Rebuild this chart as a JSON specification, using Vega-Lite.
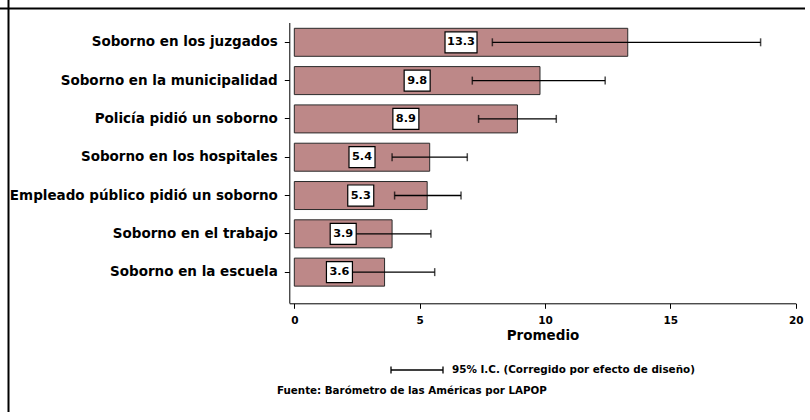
{
  "$schema": "https://vega.github.io/schema/vega-lite/v6.json",
  "width": 830,
  "height": 440,
  "autosize": {"type": "none"},
  "padding": {"left": 8, "top": 8, "right": -33, "bottom": -36},
  "background": "white",
  "config": {"view": {"stroke": null}, "font": "DejaVu Sans"},
  "data": {"values": [
    {"cat": "Soborno en los juzgados", "value": 13.3, "lo": 7.9, "hi": 18.6},
    {"cat": "Soborno en la municipalidad", "value": 9.8, "lo": 7.1, "hi": 12.4},
    {"cat": "Policía pidió un soborno", "value": 8.9, "lo": 7.35, "hi": 10.45},
    {"cat": "Soborno en los hospitales", "value": 5.4, "lo": 3.9, "hi": 6.9},
    {"cat": "Empleado público pidió un soborno", "value": 5.3, "lo": 4.0, "hi": 6.65},
    {"cat": "Soborno en el trabajo", "value": 3.9, "lo": 2.35, "hi": 5.45},
    {"cat": "Soborno en la escuela", "value": 3.6, "lo": 1.6, "hi": 5.6}
  ]},
  "title": {
    "text": "Fuente: Barómetro de las Américas por LAPOP",
    "orient": "bottom", "anchor": "start", "frame": "group",
    "dx": 269, "offset": -72,
    "font": "DejaVu Sans", "fontSize": 10.3, "fontWeight": "bold", "color": "black"
  },
  "layer": [
    {
      "encoding": {
        "y": {
          "field": "cat", "type": "nominal", "sort": null,
          "scale": {"type": "band", "range": [14.5, 295], "paddingInner": 0.269, "paddingOuter": 0.296, "align": 0.256},
          "axis": {
            "title": null, "orient": "left", "offset": -281.3,
            "domainColor": "black", "domainWidth": 1,
            "tickColor": "black", "tickSize": 5, "tickWidth": 1,
            "labelFont": "DejaVu Sans", "labelFontWeight": "bold", "labelFontSize": 13.5,
            "labelColor": "black", "labelPadding": 7, "labelLimit": 400
          }
        }
      },
      "layer": [
        {
          "mark": {"type": "bar", "fill": "#BD8888", "stroke": "#2a2a2a", "strokeWidth": 1},
          "encoding": {
            "x": {
              "field": "value", "type": "quantitative",
              "scale": {"domain": [-0.2, 20], "range": [281.3, 787.7], "nice": false, "zero": false},
              "axis": {
                "values": [0, 5, 10, 15, 20], "title": "Promedio", "orient": "bottom", "offset": -144.7,
                "grid": false, "domainColor": "black", "domainWidth": 1,
                "tickColor": "black", "tickSize": 5, "tickWidth": 1,
                "labelFont": "DejaVu Sans", "labelFontWeight": "bold", "labelFontSize": 10.5,
                "labelColor": "black", "labelPadding": 7, "labelFlush": false,
                "titleFont": "DejaVu Sans", "titleFontWeight": "bold", "titleFontSize": 13.5,
                "titleColor": "black", "titlePadding": 3
              }
            },
            "x2": {"datum": 0}
          }
        },
        {
          "mark": {"type": "rule", "strokeWidth": 1.3},
          "encoding": {
            "x": {"field": "lo", "type": "quantitative"},
            "x2": {"field": "hi"},
            "stroke": {
              "datum": "95% I.C. (Corregido por efecto de diseño)", "type": "nominal",
              "scale": {"range": ["black"]},
              "legend": {
                "title": null, "orient": "none", "legendX": 382, "legendY": 335,
                "symbolType": "M-1,-0.13L-1,0.13M-1,0L1,0M1,-0.13L1,0.13",
                "symbolSize": 2704, "symbolStrokeWidth": 1.3, "symbolFillColor": "transparent",
                "labelFont": "DejaVu Sans", "labelFontWeight": "bold", "labelFontSize": 10.4,
                "labelColor": "black", "labelLimit": 400, "labelOffset": 8
              }
            }
          }
        },
        {
          "mark": {"type": "tick", "size": 8, "thickness": 1.5, "color": "black"},
          "encoding": {"x": {"field": "lo", "type": "quantitative"}}
        },
        {
          "mark": {"type": "tick", "size": 8, "thickness": 1.5, "color": "black"},
          "encoding": {"x": {"field": "hi", "type": "quantitative"}}
        }
      ]
    },
    {
      "encoding": {
        "y": {
          "field": "cat", "type": "nominal", "sort": null,
          "scale": {"type": "band", "range": [14.5, 295], "paddingInner": 0.269, "paddingOuter": 0.296, "align": 0.256},
          "axis": null
        }
      },
      "layer": [
        {
          "mark": {"type": "point", "filled": true, "fill": "white", "stroke": "black", "strokeWidth": 1.2, "opacity": 1},
          "encoding": {
            "x": {
              "field": "value", "type": "quantitative",
              "scale": {"domain": [-0.4, 40], "range": [281.3, 787.7], "nice": false, "zero": false},
              "axis": null
            },
            "shape": {"condition": {"test": "datum.value >= 10", "value": "M-1,-0.656H1V0.656H-1Z"}, "value": "M-1,-0.808H1V0.808H-1Z"},
            "size": {"condition": {"test": "datum.value >= 10", "value": 1024}, "value": 676}
          }
        },
        {
          "mark": {"type": "text", "font": "DejaVu Sans", "fontWeight": "bold", "fontSize": 11.3, "color": "black"},
          "encoding": {
            "x": {"field": "value", "type": "quantitative"},
            "text": {"field": "value", "type": "quantitative", "format": ".1f"}
          }
        }
      ]
    },
    {
      "mark": {"type": "point", "opacity": 0},
      "encoding": {
        "x": {
          "field": "value", "type": "quantitative",
          "scale": {"domain": [0, 20], "range": [-10, 830], "nice": false, "zero": false},
          "axis": {"orient": "top", "domainColor": "black", "domainWidth": 2, "ticks": false, "labels": false, "title": null, "grid": false}
        },
        "y": {
          "field": "value", "type": "quantitative",
          "scale": {"domain": [0, 20], "range": [-10, 440], "nice": false, "zero": false},
          "axis": {"orient": "left", "domainColor": "black", "domainWidth": 2, "ticks": false, "labels": false, "title": null, "grid": false}
        }
      }
    }
  ],
  "resolve": {"scale": {"x": "independent", "y": "independent"}}
}
